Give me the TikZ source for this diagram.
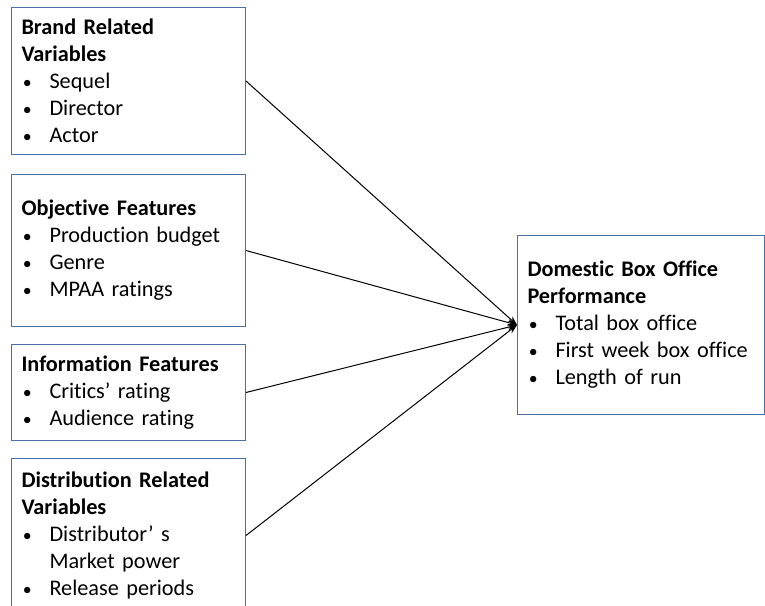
\documentclass[tikz,border=0pt]{standalone}
\usepackage{fontspec}
\setmainfont[RawFeature=-liga]{Carlito}
\usetikzlibrary{arrows.meta}
\definecolor{boxblue}{HTML}{4A6FA5}
% bullet line and continuation line with hanging indent
\newcommand{\bitem}[1]{\\\makebox[21pt][l]{\hspace*{1pt}\scalebox{0.8}{\textbullet}}#1}
\newcommand{\bcont}[1]{\\\hspace*{21pt}#1}
\begin{document}
\begin{tikzpicture}[x=0.75pt,y=-0.75pt,
  varbox/.style={draw=boxblue, line width=0.75pt, anchor=north west,
    inner xsep=7.5pt, inner ysep=0pt, align=left,
    font=\fontsize{16.7}{20.25}\selectfont},
  leftbox/.style={varbox, text width=160.5pt},
  link/.style={line width=0.75pt, -{Stealth[length=7pt,width=5pt]}}]
\useasboundingbox (0,0) rectangle (765,606);

\node[leftbox, minimum height=110.25pt] (brand) at (11,7)
  {\textbf{Brand Related}\\\textbf{Variables}\bitem{Sequel}\bitem{Director}\bitem{Actor}};
\node[leftbox, minimum height=114pt] (objective) at (11,174)
  {\textbf{Objective Features}\bitem{Production budget}\bitem{Genre}\bitem{MPAA ratings}};
\node[leftbox, minimum height=72pt] (information) at (11,344)
  {\textbf{Information Features}\bitem{Critics’ rating}\bitem{Audience rating}};
\node[leftbox, minimum height=115.5pt] (distribution) at (11,458)
  {\textbf{Distribution Related}\\\textbf{Variables}\bitem{Distributor’ s}\bcont{Market power}\bitem{Release periods}};

\node[varbox, text width=170.25pt, minimum height=134.25pt] (performance) at (517,235)
  {\textbf{Domestic Box Office}\\\textbf{Performance}\bitem{Total box office}\bitem{First week box office}\bitem{Length of run}};

\foreach \src in {brand, objective, information, distribution}
  \draw[link] (\src.east) -- (performance.west);
\end{tikzpicture}
\end{document}
